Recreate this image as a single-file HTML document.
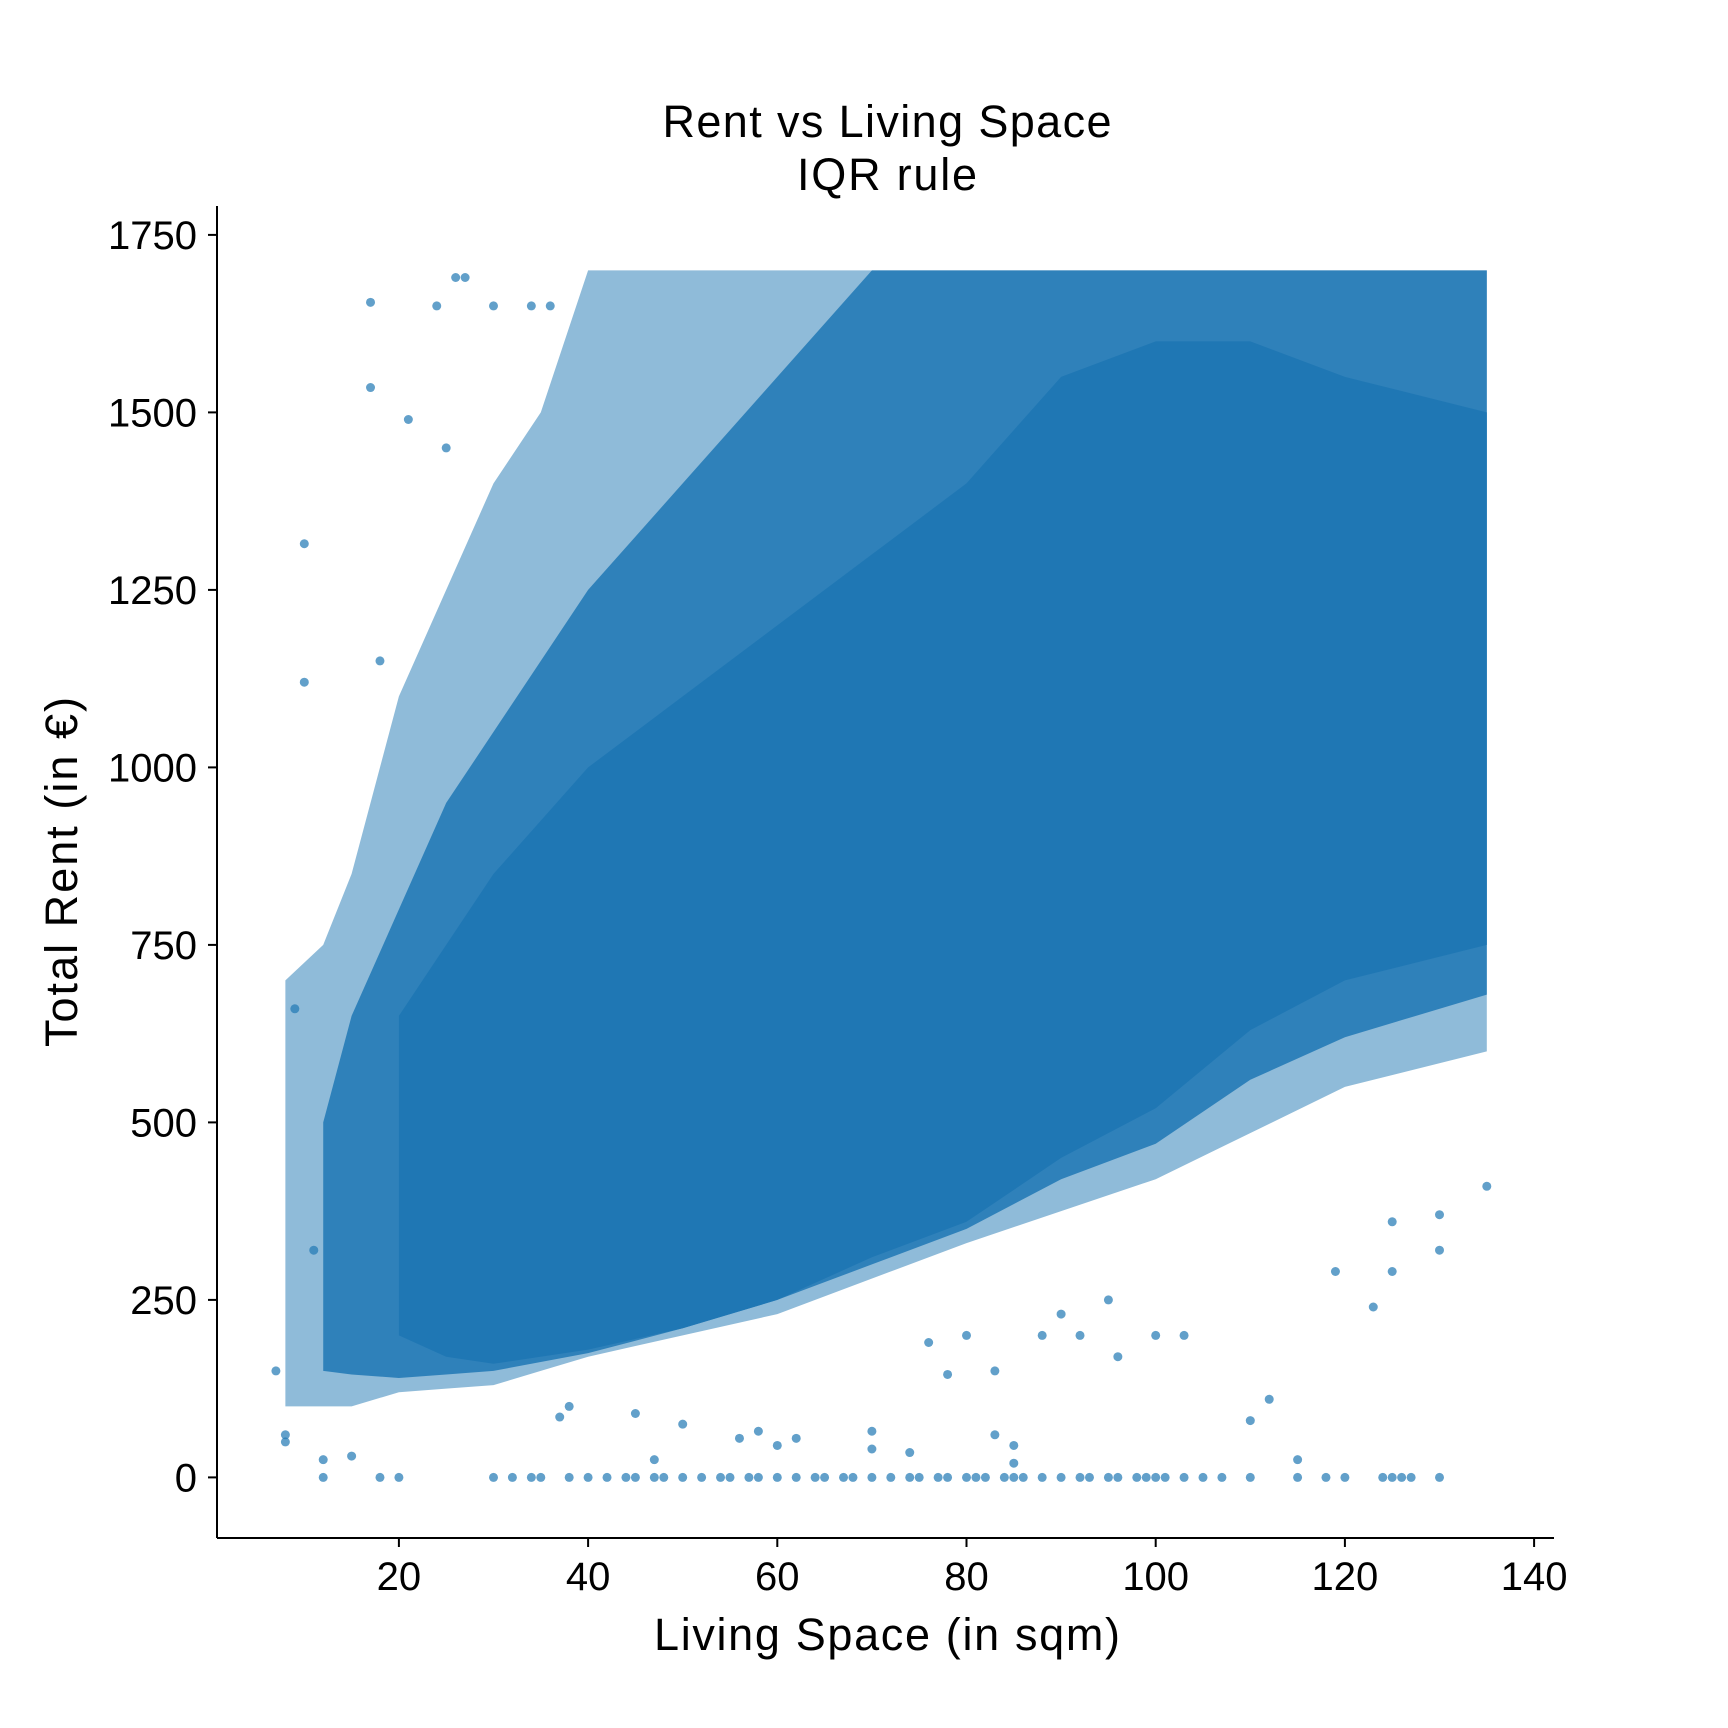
<!DOCTYPE html>
<html><head><meta charset="utf-8"><style>
html,body{margin:0;padding:0;background:#fff;}
svg{display:block;font-family:"Liberation Sans","DejaVu Sans",sans-serif;}
</style></head><body>
<svg id="chart" xmlns="http://www.w3.org/2000/svg" width="1728" height="1728" viewBox="0 0 1728 1728">
<rect width="1728" height="1728" fill="#fff"/>
<text x="887" y="137" text-anchor="middle" font-size="45" textLength="449">Rent vs Living Space</text>
<text x="887" y="190" text-anchor="middle" font-size="45" textLength="180">IQR rule</text>
<g id="plot"></g>
<g id="axes"></g>
<text x="887" y="1650" text-anchor="middle" font-size="45" textLength="466">Living Space (in sqm)</text>
<text transform="translate(77,872) rotate(-90)" text-anchor="middle" font-size="45" textLength="350">Total Rent (in €)</text>
</svg>
<script>
const xTicks = [20, 40, 60, 80, 100, 120, 140];
const yTicks = [0, 250, 500, 750, 1000, 1250, 1500, 1750];
// density envelopes (living space, lower rent, upper rent)
const outerX = [8, 12, 15, 20, 25, 30, 35, 40, 45, 60, 80, 100, 120, 135];
const outerLo = [100, 100, 100, 120, 125, 130, 150, 170, 185, 230, 330, 420, 550, 600];
const outerHi = [700, 750, 850, 1100, 1250, 1400, 1500, 1700, 1700, 1700, 1700, 1700, 1700, 1700];
const midX = [12, 15, 20, 25, 30, 40, 50, 60, 70, 80, 90, 100, 110, 120, 135];
const midLo = [150, 145, 140, 145, 150, 175, 210, 250, 300, 350, 420, 470, 560, 620, 680];
const midHi = [500, 650, 800, 950, 1050, 1250, 1400, 1550, 1700, 1700, 1700, 1700, 1700, 1700, 1700];
const coreX = [20, 25, 30, 40, 50, 60, 70, 80, 90, 100, 110, 120, 135];
const coreLo = [200, 170, 160, 180, 210, 250, 310, 360, 450, 520, 630, 700, 750];
const coreHi = [650, 750, 850, 1000, 1100, 1200, 1300, 1400, 1550, 1600, 1600, 1550, 1500];
// individual listings (zero-rent row and outliers)
const zeroX = [12, 18, 20, 30, 32, 34, 35, 38, 40, 42, 44, 45, 47, 48, 50, 52, 54, 55, 57, 58, 60, 62, 64, 65, 67, 68, 70, 72, 74, 75, 77, 78, 80, 81, 82, 84, 85, 86, 88, 90, 92, 93, 95, 96, 98, 99, 100, 101, 103, 105, 107, 110, 115, 118, 120, 124, 125, 126, 127, 130];
const outX = [7, 8, 8, 9, 10, 10, 11, 12, 15, 17, 17, 21, 24, 26, 27, 25, 18, 38, 37, 45, 50, 47, 56, 58, 60, 62, 70, 70, 74, 78, 83, 85, 85, 83, 110, 112, 115, 119, 123, 125, 125, 130, 130, 135, 96, 100, 103, 92, 95, 90, 88, 80, 76, 30, 34, 36];
const outY = [150, 50, 60, 660, 1120, 1315, 320, 25, 30, 1655, 1535, 1490, 1650, 1690, 1690, 1450, 1150, 100, 85, 90, 75, 25, 55, 65, 45, 55, 65, 40, 35, 145, 150, 45, 20, 60, 80, 110, 25, 290, 240, 290, 360, 320, 370, 410, 170, 200, 200, 200, 250, 230, 200, 200, 190, 1650, 1650, 1650];

const L = 217, R = 1554, T = 206, B = 1538;
const xScale = v => 209.7 + v * 9.46;
const yScale = v => 1477.4 - v * 0.710;
const NS = 'http://www.w3.org/2000/svg';
const plot = document.getElementById('plot');
const axes = document.getElementById('axes');
function mk(tag, attrs, parent) {
  const e = document.createElementNS(NS, tag);
  for (const k in attrs) e.setAttribute(k, attrs[k]);
  parent.appendChild(e);
  return e;
}
function band(xs, lo, hi, op, name) {
  let pts = [];
  for (let i = 0; i < xs.length; i++) pts.push(xScale(xs[i]) + ',' + yScale(hi[i]));
  for (let i = xs.length - 1; i >= 0; i--) pts.push(xScale(xs[i]) + ',' + yScale(lo[i]));
  const p = mk('polygon', {points: pts.join(' '), fill: '#1f77b4', 'fill-opacity': op}, plot);
  
  
}
band(outerX, outerLo, outerHi, 0.5, 'scatter-density-outer');
band(midX, midLo, midHi, 0.85, 'scatter-density-mid');
band(coreX, coreLo, coreHi, 1, 'scatter-density-core');
zeroX.forEach(x => {
  const c = mk('circle', {cx: xScale(x), cy: yScale(0), r: 4.5, fill: '#1f77b4', 'fill-opacity': 0.7}, plot);
  
  
});
outX.forEach((x, i) => {
  const c = mk('circle', {cx: xScale(x), cy: yScale(outY[i]), r: 4.5, fill: '#1f77b4', 'fill-opacity': 0.7}, plot);
  
  
});
const sl = mk('line', {x1: L, y1: T, x2: L, y2: B, stroke: '#000', 'stroke-width': 2}, axes);


const sb = mk('line', {x1: L, y1: B, x2: R, y2: B, stroke: '#000', 'stroke-width': 2}, axes);


xTicks.forEach(t => {
  const x = xScale(t);
  const tk = mk('line', {x1: x, y1: B, x2: x, y2: B + 9, stroke: '#000', 'stroke-width': 2}, axes);
  
  
  const lb = mk('text', {x: x, y: B + 52, 'text-anchor': 'middle', 'font-size': 40}, axes);
  lb.textContent = t;
  
  
});
yTicks.forEach(t => {
  const y = yScale(t);
  const tk = mk('line', {x1: L - 9, y1: y, x2: L, y2: y, stroke: '#000', 'stroke-width': 2}, axes);
  
  
  const lb = mk('text', {x: L - 20, y: y + 14, 'text-anchor': 'end', 'font-size': 40}, axes);
  lb.textContent = t;
  
  
});
</script>
</body></html>
